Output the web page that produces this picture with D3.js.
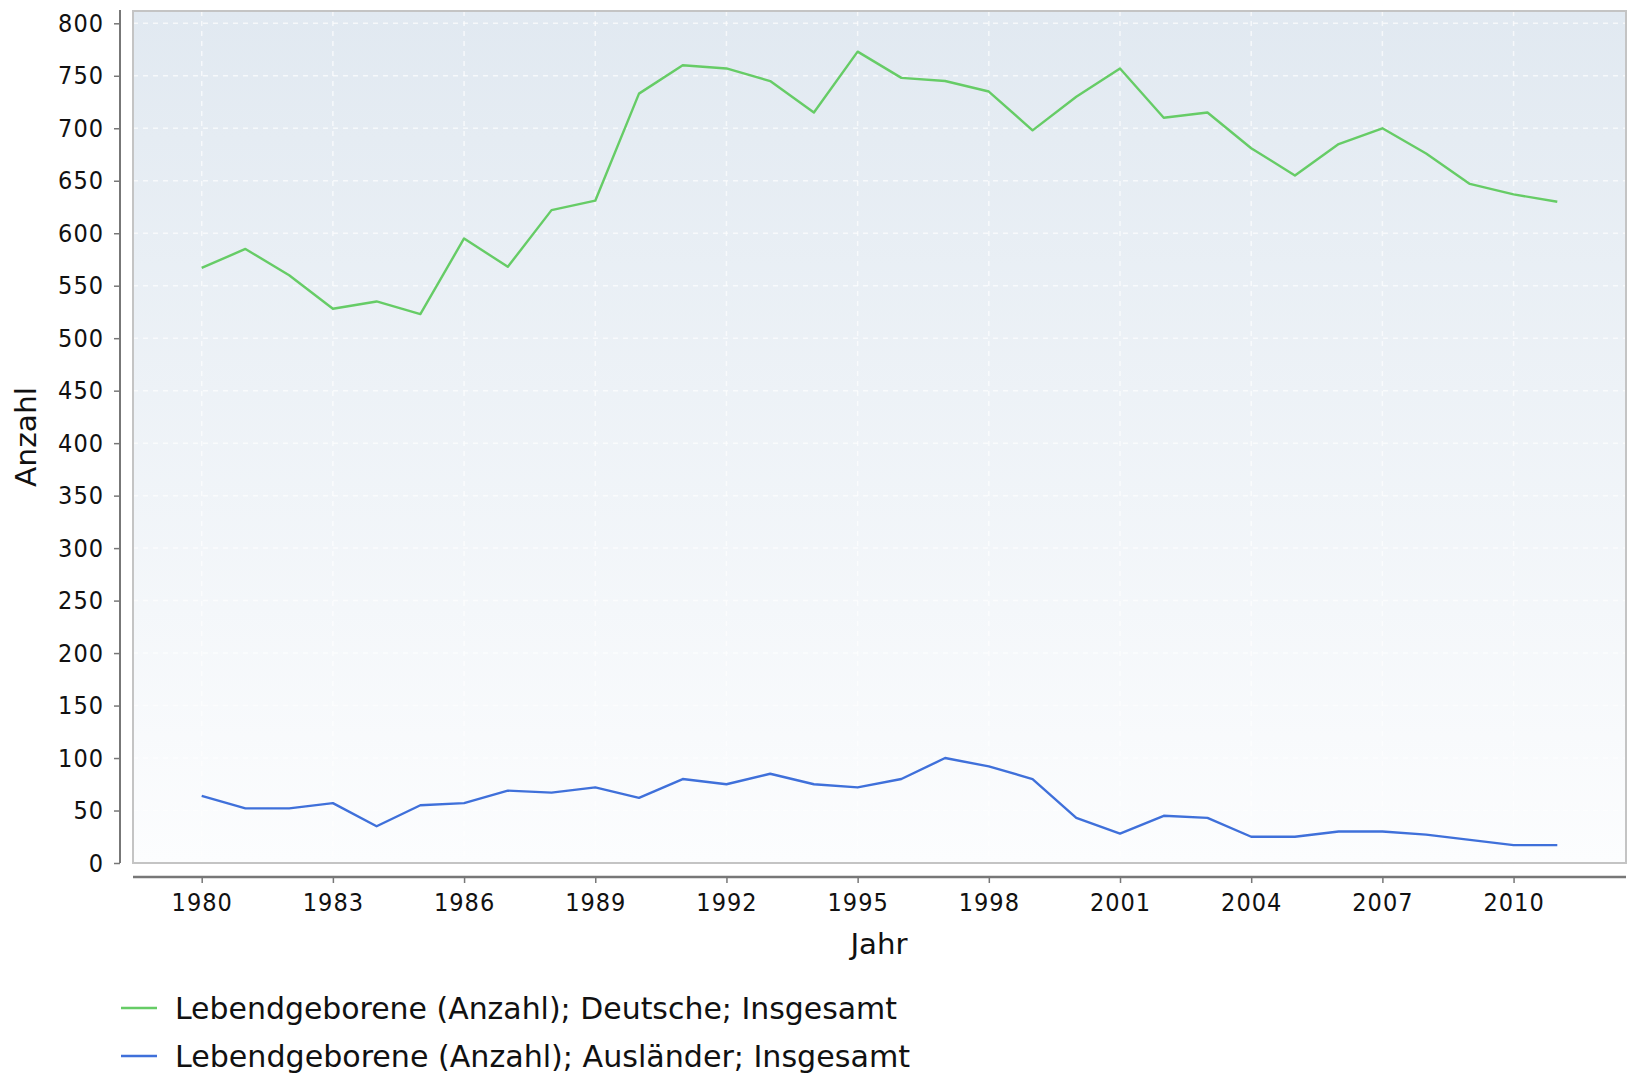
<!DOCTYPE html>
<html>
<head>
<meta charset="utf-8">
<script src="https://cdnjs.cloudflare.com/ajax/libs/d3/7.8.5/d3.min.js"></script>
<style>
  body{margin:0;background:#fff;}
  text{font-family:"DejaVu Sans Condensed","DejaVu Sans",sans-serif;fill:#111;}
</style>
</head>
<body>
<div id="DrawingBoard"></div>
<script>
var width=1631,height=1073;

// data
var years=d3.range(1980,2012);
var deutsche=[567,585,560,528,535,523,595,568,622,631,733,760,757,745,715,773,748,745,735,698,730,757,710,715,681,655,685,700,676,647,637,630];
var auslaender=[64,52,52,57,35,55,57,69,67,72,62,80,75,85,75,72,80,100,92,80,43,28,45,43,25,25,30,30,27,22,17,17];
var yTicks=d3.range(0,801,50);
var xTicks=d3.range(1980,2011,3);
var seriesNames=["Lebendgeborene (Anzahl); Deutsche; Insgesamt","Lebendgeborene (Anzahl); Ausländer; Insgesamt"];
var seriesColors=["#66cc66","#3f70da"];
var legendWidths=[722,735];

var plot={left:133,top:11,right:1626,bottom:863};

var svg=d3.select('#DrawingBoard')
    .append('svg')
    .attr('width',width)
    .attr('height',height);

// scales
var scale_x=d3.scaleLinear()
    .domain([1980,2011])
    .range([201.7,1557.3]);
var scale_y=d3.scaleLinear()
    .domain([0,800])
    .range([plot.bottom,23.3]);

// background gradient
var defs=svg.append('defs');
var grad=defs.append('linearGradient')
    .attr('id','bg').attr('x1',0).attr('y1',0).attr('x2',0).attr('y2',1);
grad.append('stop').attr('offset','0%').attr('stop-color','#e1e9f1');
grad.append('stop').attr('offset','100%').attr('stop-color','#fcfdfe');

svg.append('rect')
    .attr('x',plot.left).attr('y',plot.top)
    .attr('width',plot.right-plot.left).attr('height',plot.bottom-plot.top)
    .attr('fill','url(#bg)');

// grid
var grid=svg.append('g');
grid.selectAll('.hg').data(yTicks).enter().append('line')
    .attr('x1',plot.left).attr('x2',plot.right)
    .attr('y1',function(d){return scale_y(d);})
    .attr('y2',function(d){return scale_y(d);})
    .attr('stroke','#ffffff').attr('stroke-width',1.5)
    .attr('stroke-dasharray','5,5').attr('opacity',0.7);
grid.selectAll('.vg').data(xTicks).enter().append('line')
    .attr('y1',plot.top).attr('y2',plot.bottom)
    .attr('x1',function(d){return scale_x(d);})
    .attr('x2',function(d){return scale_x(d);})
    .attr('stroke','#ffffff').attr('stroke-width',1.5)
    .attr('stroke-dasharray','5,5').attr('opacity',0.7);

// plot border
svg.append('rect')
    .attr('x',plot.left).attr('y',plot.top)
    .attr('width',plot.right-plot.left).attr('height',plot.bottom-plot.top)
    .attr('fill','none').attr('stroke','#c4c4c4').attr('stroke-width',2);

// lines
var line=d3.line()
    .x(function(d,i){return scale_x(years[i]);})
    .y(function(d){return scale_y(d);});
[deutsche,auslaender].forEach(function(s,k){
  svg.append('path')
    .datum(s)
    .attr('d',line)
    .attr('fill','none')
    .attr('stroke',seriesColors[k])
    .attr('stroke-width',2.4)
    .attr('stroke-linejoin','round');
});

// y axis
var y_axis=d3.axisLeft(scale_y).tickValues(yTicks).tickSize(6).tickPadding(10);
var gy=svg.append('g')
    .attr('transform','translate(120,0)')
    .call(y_axis);
gy.select('.domain').attr('d','M0,'+(plot.top-1)+'V'+plot.bottom)
    .attr('stroke','#777').attr('stroke-width',2);
gy.selectAll('.tick line').attr('stroke','#777').attr('stroke-width',1.5);
gy.selectAll('.tick text')
    .style('font-size','25px').attr('fill','#111')
    .style('letter-spacing','1px')
    .style('font-family','"DejaVu Sans Condensed","DejaVu Sans",sans-serif');

// x axis
var x_axis=d3.axisBottom(scale_x).tickValues(xTicks).tickFormat(d3.format('d')).tickSize(6).tickPadding(10);
var gx=svg.append('g')
    .attr('transform','translate(0,877)')
    .call(x_axis);
gx.select('.domain').attr('d','M'+plot.left+',0H'+plot.right)
    .attr('stroke','#777').attr('stroke-width',2.5);
gx.selectAll('.tick line').attr('stroke','#777').attr('stroke-width',1.5);
gx.selectAll('.tick text')
    .style('font-size','25px').attr('fill','#111')
    .style('letter-spacing','1px')
    .style('font-family','"DejaVu Sans Condensed","DejaVu Sans",sans-serif');

// axis titles
svg.append('text')
    .attr('transform','translate(36,437) rotate(-90)')
    .attr('text-anchor','middle')
    .attr('textLength',100).attr('lengthAdjust','spacingAndGlyphs')
    .style('font-size','28px')
    .text('Anzahl');
svg.append('text')
    .attr('x',879).attr('y',954)
    .attr('text-anchor','middle')
    .attr('textLength',57).attr('lengthAdjust','spacingAndGlyphs')
    .style('font-size','28px')
    .text('Jahr');

// legend
var legend=svg.append('g');
seriesNames.forEach(function(n,k){
  var y=1008+k*48;
  legend.append('line')
    .attr('x1',121).attr('x2',157)
    .attr('y1',y).attr('y2',y)
    .attr('stroke',seriesColors[k]).attr('stroke-width',2.4);
  legend.append('text')
    .attr('x',175).attr('y',y+11)
    .attr('textLength',legendWidths[k]).attr('lengthAdjust','spacingAndGlyphs')
    .style('font-size','30px')
    .text(n);
});
</script>
</body>
</html>
